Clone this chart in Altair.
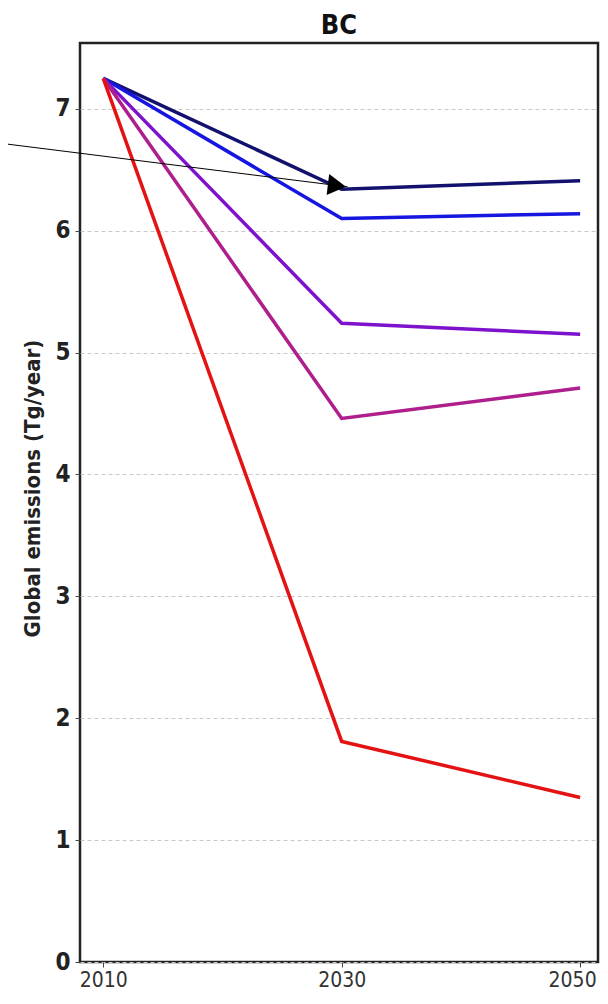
import altair as alt
import pandas as pd

years = [2010, 2030, 2050]
navy = [7.25, 6.34, 6.41]
blue = [7.25, 6.10, 6.14]
purple = [7.25, 5.24, 5.15]
magenta = [7.25, 4.46, 4.71]
red = [7.25, 1.81, 1.35]

series_names = ["navy", "blue", "purple", "magenta", "red"]
series_colors = ["#12126e", "#1616e0", "#7e12cc", "#ae1e8c", "#e41212"]
y_ticks = [0, 1, 2, 3, 4, 5, 6, 7]
x_ticks = [2010, 2030, 2050]

arrow_start = [2002.0, 6.71]
arrow_end = [2030.5, 6.36]
arrow_head = [2029.6, 6.37]

rows = []
for name, vals in zip(series_names, [navy, blue, purple, magenta, red]):
    for yr, v in zip(years, vals):
        rows.append({"series": name, "year": yr, "value": v})
df = pd.DataFrame(rows)

FONT = "DejaVu Sans Condensed, DejaVu Sans"

xscale = alt.Scale(domain=[2008.05, 2051.5], nice=False, zero=False)
yscale = alt.Scale(domain=[0, 7.54], nice=False)

lines = alt.Chart(df).mark_line(strokeWidth=3.5).encode(
    x=alt.X("year:Q", scale=xscale,
            axis=alt.Axis(values=x_ticks, format="d", title=None, grid=False,
                          domain=False, tickSize=5, tickColor="#444",
                          labelFontSize=21, labelColor="#333", labelFont=FONT,
                          labelPadding=2,
                          labelOffset={"condition": {"test": "datum.value == 2050",
                                                     "value": -8},
                                       "value": 0})),
    y=alt.Y("value:Q", scale=yscale,
            axis=alt.Axis(values=y_ticks, format="d", title="Global emissions (Tg/year)",
                          grid=True, gridDash=[4, 3], gridColor="#c8c8c8",
                          gridWidth=1, domain=False, tickSize=5, tickColor="#444",
                          labelFontSize=24, labelFontWeight="bold", labelFont=FONT,
                          labelColor="#222", labelPadding=5,
                          titleFont=FONT, titleFontSize=22, titleFontWeight="bold",
                          titleColor="#222", titleAngle=-90, titleAlign="center",
                          titleBaseline="middle", titleX=-48, titleY=445)),
    color=alt.Color("series:N", scale=alt.Scale(domain=series_names, range=series_colors),
                    legend=None),
    order=alt.Order("year:Q"),
)

arrow_df = pd.DataFrame([{"x": arrow_start[0], "y": arrow_start[1],
                          "x2": arrow_end[0], "y2": arrow_end[1]}])
arrow_line = alt.Chart(arrow_df).mark_rule(color="black", strokeWidth=1, clip=False).encode(
    x=alt.X("x:Q", scale=xscale), y=alt.Y("y:Q", scale=yscale),
    x2="x2:Q", y2="y2:Q")

head_df = pd.DataFrame([{"x": arrow_head[0], "y": arrow_head[1]}])
arrow_tip = alt.Chart(head_df).mark_point(shape="triangle-right", filled=True,
                                          color="black", opacity=1, size=440,
                                          angle=7).encode(
    x=alt.X("x:Q", scale=xscale), y=alt.Y("y:Q", scale=yscale))

chart = alt.layer(lines, arrow_line, arrow_tip).properties(
    width=518, height=919,
    title=alt.TitleParams("BC", fontSize=27, fontWeight="bold", font=FONT,
                          color="#111", anchor="middle", offset=3),
    autosize=alt.AutoSizeParams(type="none"),
    padding={"left": 72, "top": 35, "right": 2, "bottom": 32},
).configure(
    background="white",
    view=alt.ViewConfig(stroke="#222", strokeWidth=2.5),
)

chart.save("out.html", embed_options={"renderer": "svg", "actions": False})
